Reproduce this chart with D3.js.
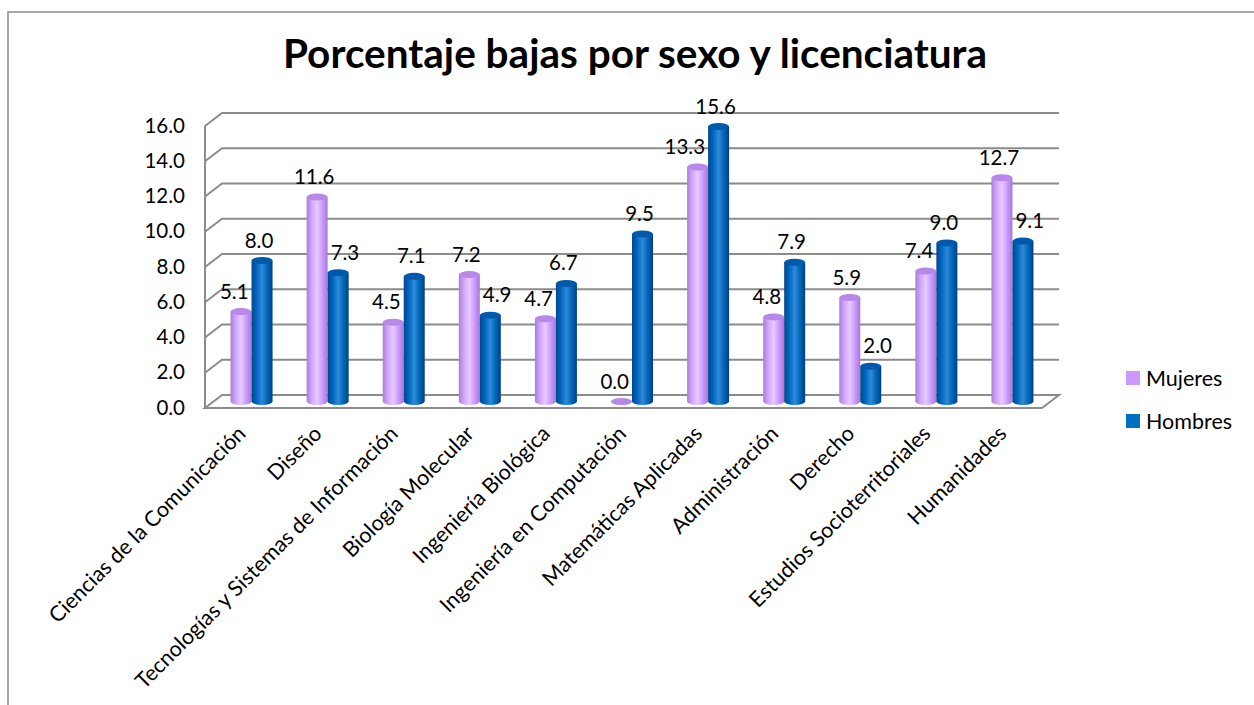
<!DOCTYPE html>
<html>
<head>
<meta charset="utf-8">
<script src="https://cdn.jsdelivr.net/npm/d3@7"></script>
<style>
  body { margin: 0; background: #fff; }
  text { font-family: Lato, "Open Sans", sans-serif; fill: #000; }
</style>
</head>
<body>
<div id="vis"></div>
<script>
// Datos
const CATEGORIAS = [
  "Ciencias de la Comunicación", "Diseño", "Tecnologías y Sistemas de Información",
  "Biología Molecular", "Ingeniería Biológica", "Ingeniería en Computación",
  "Matemáticas Aplicadas", "Administración", "Derecho",
  "Estudios Socioterritoriales", "Humanidades"
];
const MUJERES = [5.1, 11.6, 4.5, 7.2, 4.7, 0.0, 13.3, 4.8, 5.9, 7.4, 12.7];
const HOMBRES = [8.0, 7.3, 7.1, 4.9, 6.7, 9.5, 15.6, 7.9, 2.0, 9.0, 9.1];
const SERIES = ["Mujeres", "Hombres"];
const TICKS = [0, 2, 4, 6, 8, 10, 12, 14, 16];

const WIDTH = 1254;
const HEIGHT = 705;

// profundidad del efecto 3D
const DEPTH = { dx: 17, dy: -13 };

const svg = d3.select("#vis")
  .append("svg")
  .attr("width", WIDTH)
  .attr("height", HEIGHT)

// borde del área del gráfico
svg.append("rect")
  .attr("x", 8).attr("y", 12)
  .attr("width", 1260).attr("height", 720)
  .attr("fill", "#fff")
  .attr("stroke", "#8a8a8a")
  .attr("stroke-width", 1.5)

svg.append("text")
  .attr("x", 635).attr("y", 68)
  .attr("text-anchor", "middle")
  .style("font-weight", "bold")
  .style("font-size", "40.5px")
  .text("Porcentaje bajas por sexo y licenciatura")

// escalas (plano frontal)
const x = d3.scaleBand().domain(CATEGORIAS).range([205, 1042]);
const y = d3.scaleLinear().domain([0, 16]).range([408, 126]);
const color = d3.scaleOrdinal().domain(SERIES).range(["#CC99FF", "#0070C0"]);

// degradados de cilindro
const defs = svg.append("defs");
const grads = {
  Mujeres: ["#a87fd6", "#d2a6ff", "#e6cbff", "#cc99ff", "#a67ad4"],
  Hombres: ["#00478f", "#0068c0", "#2f8ad8", "#0066bb", "#00407f"]
};
SERIES.forEach(s => {
  const g = defs.append("linearGradient").attr("id", "g-" + s)
    .attr("x1", "0%").attr("x2", "100%").attr("y1", "0%").attr("y2", "0%");
  grads[s].forEach((c, i) => g.append("stop")
    .attr("offset", (i / (grads[s].length - 1) * 100) + "%")
    .attr("stop-color", c));
});

const grid = svg.append("g")
  .attr("fill", "none")
  .attr("stroke", "#8c8c8c")
  .attr("stroke-width", 2);

const x0 = x.range()[0], x1 = x.range()[1];

// pared lateral izquierda
grid.append("line")
  .attr("x1", x0).attr("x2", x0)
  .attr("y1", y(0)).attr("y2", y(16));

// líneas de cuadrícula: pared del fondo y pared izquierda
grid.selectAll("path.grid")
  .data(TICKS.slice(1))
  .join("path")
  .attr("class", "grid")
  .attr("d", d => `M${x0},${y(d)}L${x0 + DEPTH.dx},${y(d) + DEPTH.dy}L${x1 + DEPTH.dx},${y(d) + DEPTH.dy}`);

// piso
grid.append("path")
  .attr("d", `M${x0 + DEPTH.dx},${y(0) + DEPTH.dy}L${x0},${y(0)}L${x1},${y(0)}L${x1 + DEPTH.dx},${y(0) + DEPTH.dy}Z`)
  .attr("fill", "#fff");

// etiquetas eje y
svg.append("g")
  .selectAll("text")
  .data(TICKS)
  .join("text")
  .attr("x", 185)
  .attr("y", d => y(d) + 6.5)
  .attr("text-anchor", "end")
  .style("font-size", "20.5px")
  .text(d => d.toFixed(1))

// datos por barra
const datos = [];
CATEGORIAS.forEach((c, i) => {
  datos.push({ cat: c, serie: "Mujeres", valor: MUJERES[i], otro: HOMBRES[i], k: 0 });
  datos.push({ cat: c, serie: "Hombres", valor: HOMBRES[i], otro: MUJERES[i], k: 1 });
});

const BAR_W = 21;
const RY = 3.5;
const midX = d => x(d.cat) + x.bandwidth() / 2 + DEPTH.dx / 2 + (d.k === 0 ? -BAR_W / 2 : BAR_W / 2);
const midY = v => y(v) + DEPTH.dy / 2;

const barras = svg.append("g")
  .selectAll("g.barra")
  .data(datos)
  .join("g")
  .attr("class", "barra");

barras.append("path")
  .attr("fill", d => `url(#g-${d.serie})`)
  .attr("d", d => {
    const cx = midX(d), l = cx - BAR_W / 2, r = cx + BAR_W / 2;
    const yb = midY(0), yt = midY(d.valor);
    return `M${l},${yt}L${l},${yb}A${BAR_W / 2},${RY} 0 0 0 ${r},${yb}L${r},${yt}Z`;
  });

barras.append("ellipse")
  .attr("cx", d => midX(d))
  .attr("cy", d => midY(d.valor))
  .attr("rx", BAR_W / 2)
  .attr("ry", RY)
  .attr("fill", d => d.serie === "Mujeres" ? "#b887ea" : "#0059ab");

// etiquetas de valores (se apartan de la barra vecina si chocan con ella)
const etiquetas = svg.append("g")
  .selectAll("text")
  .data(datos)
  .join("text")
  .attr("x", d => midX(d) - 3)
  .attr("y", d => midY(d.valor) - 13)
  .attr("text-anchor", "middle")
  .style("font-size", "20.5px")
  .text(d => d.valor.toFixed(1))

etiquetas.each(function (d) {
  const w = this.getComputedTextLength();
  const cx = midX(d) - 3;
  if (d.otro > d.valor + 0.75) {
    if (d.k === 0) {
      const limite = midX(d) + BAR_W / 2 - 3 - w / 2;
      d3.select(this).attr("x", Math.min(cx, limite));
    } else {
      const limite = midX(d) - BAR_W / 2 + 3 + w / 2;
      d3.select(this).attr("x", Math.max(cx, limite));
    }
  }
});

// etiquetas eje x
svg.append("g")
  .selectAll("text")
  .data(CATEGORIAS)
  .join("text")
  .attr("transform", d => `translate(${x(d) + x.bandwidth() / 2 + 4},${y(0) + 27}) rotate(-45)`)
  .attr("text-anchor", "end")
  .style("font-size", "21.5px")
  .text(d => d)

// leyenda
const leyenda = svg.append("g")
  .selectAll("g")
  .data(SERIES)
  .join("g")
  .attr("transform", (d, i) => `translate(1126, ${371 + i * 43})`);

leyenda.append("rect")
  .attr("width", 14).attr("height", 14)
  .attr("fill", d => color(d));

leyenda.append("text")
  .attr("x", 20).attr("y", 14.5)
  .style("font-size", "21.5px")
  .text(d => d)
</script>
</body>
</html>
